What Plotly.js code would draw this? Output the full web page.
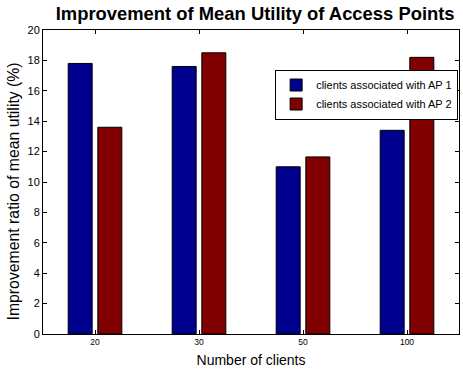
<!DOCTYPE html>
<html>
<head>
<meta charset="utf-8">
<script src="https://cdn.plot.ly/plotly-3.0.1.min.js"></script>
<style>html,body{margin:0;padding:0;background:#fff}#chart{width:463px;height:375px}</style>
</head>
<body>
<div id="chart"></div>
<script>
const categories = ['20', '30', '50', '100'];
const seriesNames = ['clients associated with AP 1', 'clients associated with AP 2'];
const ap1Values = [17.8, 17.6, 11.0, 13.4];
const ap2Values = [13.6, 18.5, 11.65, 18.2];
const yTicks = [0, 2, 4, 6, 8, 10, 12, 14, 16, 18, 20];

const FONT = 'Liberation Sans, Arial, sans-serif';

const data = [
  {type: 'bar', x: categories, y: ap1Values, name: seriesNames[0],
   marker: {color: '#00008F', line: {color: '#000', width: 1}}},
  {type: 'bar', x: categories, y: ap2Values, name: seriesNames[1],
   marker: {color: '#800000', line: {color: '#000', width: 1}}}
];

const layout = {
  width: 463, height: 375,
  margin: {l: 43, r: 4, t: 30, b: 41},
  paper_bgcolor: '#fff', plot_bgcolor: '#fff',
  font: {family: FONT, color: '#000'},
  barmode: 'group', bargap: 0.43, bargroupgap: 0.19,
  title: {text: '<b>Improvement of Mean Utility of Access Points</b>',
          font: {size: 18.4, family: FONT, color: '#000'},
          x: 0.51, xref: 'paper', xanchor: 'center', y: 0.963, yref: 'container', yanchor: 'middle'},
  xaxis: {type: 'category', range: [-0.5, 3.5], showgrid: false, zeroline: false,
          showline: true, linecolor: '#000', linewidth: 1, mirror: 'ticks',
          ticks: 'inside', ticklen: 4, tickcolor: '#000',
          tickfont: {size: 8.5, family: FONT, color: '#000'},
          title: {text: 'Number of clients', font: {size: 14, family: FONT, color: '#000'}, standoff: 8}},
  yaxis: {range: [0, 20], tickvals: yTicks, showgrid: false, zeroline: false,
          showline: true, linecolor: '#000', linewidth: 1, mirror: 'ticks',
          ticks: 'inside', ticklen: 4, tickcolor: '#000',
          tickfont: {size: 11, family: FONT, color: '#000'}},
  annotations: [{text: 'Improvement ratio of mean utility (%)', textangle: -90,
                 xref: 'paper', yref: 'paper', x: -0.072, y: 0.469,
                 xanchor: 'center', yanchor: 'middle', showarrow: false,
                 font: {size: 15.8, family: FONT, color: '#000'}}],
  legend: {x: 0.558, y: 0.87, xanchor: 'left', yanchor: 'top',
           bgcolor: '#fff', bordercolor: '#000', borderwidth: 1,
           font: {size: 11, family: FONT, color: '#000'}, tracegroupgap: 0}
};

Plotly.newPlot('chart', data, layout, {staticPlot: true, displayModeBar: false});
</script>
</body>
</html>
